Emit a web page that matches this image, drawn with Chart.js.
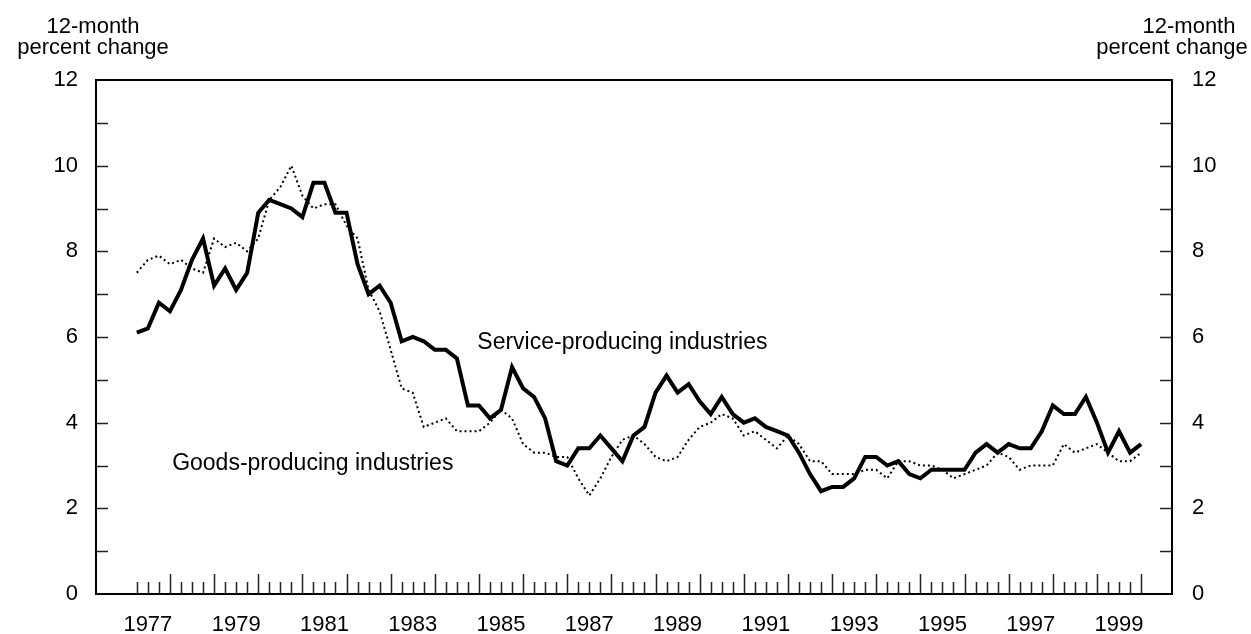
<!DOCTYPE html>
<html>
<head>
<meta charset="utf-8">
<script src="https://cdn.jsdelivr.net/npm/chart.js@4.4.1/dist/chart.umd.min.js"></script>
<style>
  body { margin: 0; background: #fff; }
  #wrap { width: 1251px; height: 634px; }
</style>
</head>
<body>
<div id="wrap"><canvas id="chart" width="1251" height="634"></canvas></div>
<script>
// quarterly, 1977 Q1 .. 1999 Q4
const startYear = 1977;
const endYear = 1999;

const services = [
  6.1, 6.2, 6.8, 6.6, 7.1, 7.8, 8.3, 7.2, 7.6, 7.1, 7.5, 8.9,
  9.2, 9.1, 9.0, 8.8, 9.6, 9.6, 8.9, 8.9, 7.7, 7.0, 7.2, 6.8,
  5.9, 6.0, 5.9, 5.7, 5.7, 5.5, 4.4, 4.4, 4.1, 4.3, 5.3, 4.8,
  4.6, 4.1, 3.1, 3.0, 3.4, 3.4, 3.7, 3.4, 3.1, 3.7, 3.9, 4.7,
  5.1, 4.7, 4.9, 4.5, 4.2, 4.6, 4.2, 4.0, 4.1, 3.9, 3.8, 3.7,
  3.3, 2.8, 2.4, 2.5, 2.5, 2.7, 3.2, 3.2, 3.0, 3.1, 2.8, 2.7,
  2.9, 2.9, 2.9, 2.9, 3.3, 3.5, 3.3, 3.5, 3.4, 3.4, 3.8, 4.4,
  4.2, 4.2, 4.6, 4.0, 3.3, 3.8, 3.3, 3.5
];

const goods = [
  7.5, 7.8, 7.9, 7.7, 7.8, 7.6, 7.5, 8.3, 8.1, 8.2, 8.0, 8.3,
  9.2, 9.5, 10.0, 9.3, 9.0, 9.1, 9.1, 8.6, 8.3, 7.1, 6.6, 5.7,
  4.8, 4.7, 3.9, 4.0, 4.1, 3.8, 3.8, 3.8, 4.0, 4.3, 4.1, 3.5,
  3.3, 3.3, 3.2, 3.2, 2.7, 2.3, 2.7, 3.2, 3.6, 3.7, 3.5, 3.2,
  3.1, 3.2, 3.6, 3.9, 4.0, 4.2, 4.1, 3.7, 3.8, 3.6, 3.4, 3.7,
  3.5, 3.1, 3.1, 2.8, 2.8, 2.8, 2.9, 2.9, 2.7, 3.1, 3.1, 3.0,
  3.0, 2.9, 2.7, 2.8, 2.9, 3.0, 3.3, 3.2, 2.9, 3.0, 3.0, 3.0,
  3.5, 3.3, 3.4, 3.5, 3.3, 3.1, 3.1, 3.3
];

const yearLabels = ["1977", "1979", "1981", "1983", "1985", "1987",
  "1989", "1991", "1993", "1995", "1997", "1999"];
const yTicks = [0, 2, 4, 6, 8, 10, 12];

const FONT = "Liberation Sans, Arial, Helvetica, sans-serif";

const quarters = [];
for (let y = startYear; y <= endYear; y++) {
  for (let q = 0; q < 4; q++) quarters.push(quarters.length);
}

// inward tick marks, series labels and the axis headers
const decor = {
  id: "decor",
  afterDatasetsDraw(chart) {
    const ctx = chart.ctx;
    const x = chart.scales.x;
    const y = chart.scales.y;
    const area = chart.chartArea;

    ctx.save();
    ctx.strokeStyle = "#222";
    ctx.lineWidth = 1.5;
    ctx.beginPath();
    quarters.forEach(i => {
      const px = Math.round(x.getPixelForValue(i)) + 0.5;
      const len = i % 4 === 3 ? 20 : 12;
      ctx.moveTo(px, area.bottom);
      ctx.lineTo(px, area.bottom - len);
    });
    for (let v = 1; v < 12; v++) {
      const py = Math.round(y.getPixelForValue(v)) + 0.5;
      ctx.moveTo(area.left, py);
      ctx.lineTo(area.left + 12, py);
      ctx.moveTo(area.right, py);
      ctx.lineTo(area.right - 12, py);
    }
    ctx.stroke();

    ctx.fillStyle = "#000";
    ctx.font = "23px " + FONT;
    ctx.textBaseline = "alphabetic";
    ctx.textAlign = "left";
    ctx.fillText("Service-producing industries", x.getPixelForValue(30.85), y.getPixelForValue(5.73));
    ctx.fillText("Goods-producing industries", x.getPixelForValue(3.2), y.getPixelForValue(2.89));

    ctx.font = "22px " + FONT;
    ctx.textAlign = "center";
    ctx.fillText("12-month", 93, 33);
    ctx.fillText("percent change", 93, 54);
    ctx.fillText("12-month", 1189, 33);
    ctx.fillText("percent change", 1172, 54);
    ctx.restore();
  }
};

const tickFont = { family: FONT, size: 22 };

new Chart(document.getElementById("chart"), {
  type: "line",
  data: {
    datasets: [
      {
        label: "Service-producing industries",
        data: services.map((v, i) => ({ x: i, y: v })),
        borderColor: "#000",
        borderWidth: 4,
        pointRadius: 0,
        tension: 0,
        borderJoinStyle: "miter"
      },
      {
        label: "Goods-producing industries",
        data: goods.map((v, i) => ({ x: i, y: v })),
        borderColor: "#000",
        borderWidth: 2,
        borderDash: [2, 3],
        pointRadius: 0,
        tension: 0
      }
    ]
  },
  options: {
    responsive: false,
    animation: false,
    layout: { padding: 0 },
    plugins: { legend: { display: false }, tooltip: { enabled: false } },
    scales: {
      x: {
        type: "linear",
        position: "bottom",
        min: -3.7,
        max: 93.8,
        afterBuildTicks: s => { s.ticks = quarters.map(v => ({ value: v })); },
        afterFit: s => { s.height = 40; },
        grid: { display: false, drawTicks: false },
        border: { display: true, color: "#000", width: 2 },
        ticks: {
          autoSkip: false,
          maxRotation: 0,
          padding: 18,
          color: "#000",
          font: tickFont,
          callback: v => (v % 8 === 1 ? yearLabels[(v - 1) / 8] : "")
        }
      },
      xTop: {
        type: "linear",
        position: "top",
        min: -3.7,
        max: 93.8,
        afterFit: s => { s.height = 80; },
        grid: { display: false, drawTicks: false },
        border: { display: true, color: "#000", width: 2 },
        ticks: { display: false }
      },
      y: {
        position: "left",
        min: 0,
        max: 12,
        afterBuildTicks: s => { s.ticks = yTicks.map(v => ({ value: v })); },
        afterFit: s => { s.width = 96; },
        grid: { display: false, drawTicks: false },
        border: { display: true, color: "#000", width: 2 },
        ticks: { padding: 18, color: "#000", font: tickFont }
      },
      yRight: {
        position: "right",
        min: 0,
        max: 12,
        afterBuildTicks: s => { s.ticks = yTicks.map(v => ({ value: v })); },
        afterFit: s => { s.width = 79; },
        grid: { display: false, drawTicks: false },
        border: { display: true, color: "#000", width: 2 },
        ticks: { padding: 20, color: "#000", font: tickFont }
      }
    }
  },
  plugins: [decor]
});
</script>
</body>
</html>
